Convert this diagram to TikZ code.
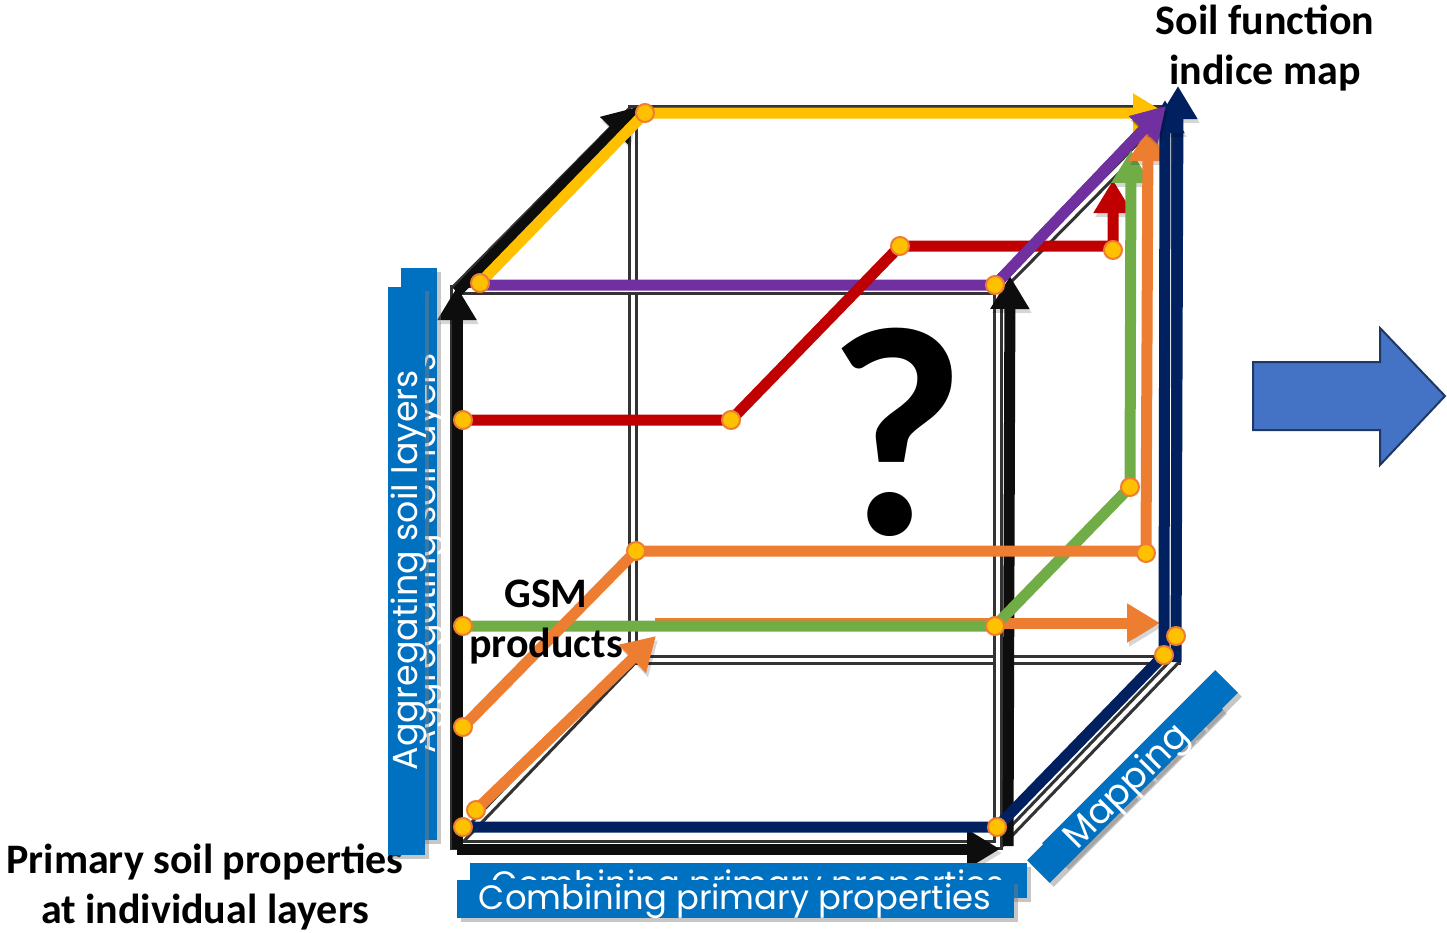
\documentclass[tikz,border=0pt]{standalone}
\usepackage{fontspec}
\setmainfont{Carlito}
\newfontfamily\tagfont{Poppins}
\usetikzlibrary{arrows.meta,shadows}
\definecolor{boxblue}{HTML}{0070C0}
\definecolor{arrowblue}{HTML}{4472C4}
\definecolor{arrowedge}{HTML}{1F3864}
\definecolor{edgegray}{HTML}{333333}
\definecolor{cyellow}{HTML}{FFC000}
\definecolor{cpurple}{HTML}{7030A0}
\definecolor{cred}{HTML}{C00000}
\definecolor{cgreen}{HTML}{70AD47}
\definecolor{corange}{HTML}{ED7D31}
\definecolor{cnavy}{HTML}{002060}
\begin{document}
\begin{tikzpicture}[x=1pt,y=-1pt,
  cubeedge/.style={draw=edgegray, line width=3.2pt, double=white, double distance=4pt},
  softshadow/.style={preaction={draw=black, opacity=0.16, transform canvas={xshift=2pt,yshift=-4pt}}},
  axisarrow/.style={draw=black!95, line width=11pt, softshadow, -{Triangle[length=33pt,width=37pt]}},
  route/.style={line width=11pt, line join=miter, softshadow, -{Triangle[length=33pt,width=37pt]}},
  waypoint/.style={circle, fill=cyellow, draw=corange, line width=2pt, minimum size=18pt, inner sep=0pt},
  caption/.style={font=\fontsize{42}{50}\selectfont\bfseries, align=center, text=black, inner sep=0pt},
  bluetag/.style={fill=boxblue, inner sep=0pt, drop shadow={shadow xshift=4pt, shadow yshift=-4pt, opacity=0.45}},
  tagtext/.style={text=white, inner sep=0pt},
]
\useasboundingbox (0,0) rectangle (1447,932);

% cube corners
\coordinate (FTL) at (455,290);  \coordinate (FTR) at (998,290);
\coordinate (FBR) at (998,845);  \coordinate (FBL) at (455,845);
\coordinate (BTL) at (633,110);  \coordinate (BTR) at (1176,110);
\coordinate (BBR) at (1176,660); \coordinate (BBL) at (633,660);

% cube frame
\draw[cubeedge] (BTL) -- (BTR) -- (BBR) -- (BBL) -- cycle;
\draw[cubeedge] (FTL) -- (BTL);
\draw[cubeedge] (FTR) -- (BTR);
\draw[cubeedge] (FBR) -- (BBR);
\draw[cubeedge] (FBL) -- (BBL);
\draw[cubeedge] (FTL) -- (FTR) -- (FBR) -- (FBL) -- cycle;

% black axes
\coordinate (ax0) at (457,849);
\coordinate (axup) at (457,287);
\coordinate (axright) at (1000,849);
\coordinate (axdiag0) at (457,292);
\coordinate (axdiag) at (637,107);
\coordinate (axfr0) at (1008,846);
\coordinate (axfr) at (1010,276);
\coordinate (axbr0) at (1176,662);
\coordinate (axbr) at (1178,86);
\draw[axisarrow] (ax0) -- (axup);
\draw[axisarrow] (ax0) -- (axright);
\draw[axisarrow] (axdiag0) -- (axdiag);
\draw[axisarrow] (axfr0) -- (axfr);
\draw[axisarrow, draw=cnavy] (axbr0) -- (axbr);

% route waypoints
\coordinate (Y1) at (480,283);  \coordinate (Y2) at (645,113);  \coordinate (Y3) at (1166,113);
\coordinate (P1) at (480,285);  \coordinate (P2) at (995,285);  \coordinate (P3) at (1166,106);
\coordinate (R1) at (463,420);  \coordinate (R2) at (731,420);  \coordinate (R3) at (900,246);
\coordinate (R4) at (1113,246); \coordinate (R5) at (1113,180);
\coordinate (G1) at (463,626);  \coordinate (G2) at (995,626);  \coordinate (G3) at (1130,487);
\coordinate (G4) at (1131,150);
\coordinate (O1) at (463,727);  \coordinate (O2) at (636,551);  \coordinate (O3) at (1146,551);
\coordinate (O4) at (1148,128);
\coordinate (OB1) at (476,810); \coordinate (OB2) at (656,636);
\coordinate (OC1) at (655,623); \coordinate (OC2) at (1160,623);
\coordinate (N1) at (463,827);  \coordinate (N2) at (997,827);  \coordinate (N3) at (1164,655);
\coordinate (N4) at (1165,100);

% coloured routes through the cube
\draw[route, cyellow] (Y1) -- (Y2) -- (Y3);
\draw[route, cpurple] (P1) -- (P2) -- (P3);
\draw[route, cred] (R1) -- (R2) -- (R3) -- (R4) -- (R5);
\draw[route, corange] (OC1) -- (OC2);
\draw[route, cgreen] (G1) -- (G2) -- (G3) -- (G4);
\draw[route, corange] (O1) -- (O2) -- (O3) -- (O4);
\draw[route, corange] (OB1) -- (OB2);
\draw[route, cnavy] (N1) -- (N2) -- (N3) -- (N4);
\draw[route, cpurple] (P2) -- (P3);

% waypoint markers
\node[waypoint] (dY1) at (Y1) {};
\node[waypoint] (dY2) at (Y2) {};
\node[waypoint] (dP2) at (P2) {};
\node[waypoint] (dR1) at (R1) {};
\node[waypoint] (dR2) at (R2) {};
\node[waypoint] (dR3) at (R3) {};
\node[waypoint] (dR4) at (1113,250) {};
\node[waypoint] (dG1) at (G1) {};
\node[waypoint] (dG2) at (G2) {};
\node[waypoint] (dG3) at (G3) {};
\node[waypoint] (dO1) at (O1) {};
\node[waypoint] (dO2) at (O2) {};
\node[waypoint] (dO3) at (1146,553) {};
\node[waypoint] (dOB1) at (OB1) {};
\node[waypoint] (dN1) at (N1) {};
\node[waypoint] (dN2) at (N2) {};
\node[waypoint] (dN3) at (N3) {};
\node[waypoint] (dOC2) at (1176,636) {};

% texts
\node[caption] (goal) at (1265,48) {Soil function\\indice map};
\node[caption] (start) at (205,887) {Primary soil properties\\at individual layers};
\node[caption] (gsm) at (546,622) {GSM\\products};
\node[inner sep=0pt] (question) at (897,432) {\resizebox{!}{206pt}{\bfseries ?}};

% blue step labels
\node[bluetag, minimum width=572pt, minimum height=36pt, rotate=90] (aggback) at (419,554) {};
\node[tagtext, rotate=90] (aggbacktext) at (427,553) {\resizebox{400pt}{!}{\tagfont Aggregating soil layers}};
\node[bluetag, minimum width=568pt, minimum height=37pt, rotate=90] (aggfront) at (406.5,571) {};
\node[tagtext, rotate=90] (aggtext) at (409,570) {\resizebox{400pt}{!}{\tagfont Aggregating soil layers}};

\node[bluetag, minimum width=557pt, minimum height=35pt] (combback) at (748.5,880.5) {};
\node[tagtext] (combbacktext) at (748,887) {\resizebox{512pt}{!}{\tagfont Combining primary properties}};
\node[bluetag, minimum width=557pt, minimum height=38pt] (combfront) at (735.5,899) {};
\node[tagtext] (combtext) at (735,901) {\resizebox{512pt}{!}{\tagfont Combining primary properties}};

\node[bluetag, minimum width=245pt, minimum height=32pt, rotate=45] (mapback) at (1140,768) {};
\node[tagtext, rotate=45] (mapbacktext) at (1146,776) {\resizebox{160pt}{!}{\tagfont Mapping}};
\node[bluetag, minimum width=245pt, minimum height=32pt, rotate=45] (mapfront) at (1125,785) {};
\node[tagtext, rotate=45] (maptext) at (1128,788) {\resizebox{160pt}{!}{\tagfont Mapping}};

% block arrow to the result
\draw[fill=arrowblue, draw=arrowedge, line width=2pt, line join=miter]
  (1253,362) -- (1380,362) -- (1380,328) -- (1445,396) -- (1380,465) -- (1380,430) -- (1253,430) -- cycle;
\end{tikzpicture}
\end{document}
